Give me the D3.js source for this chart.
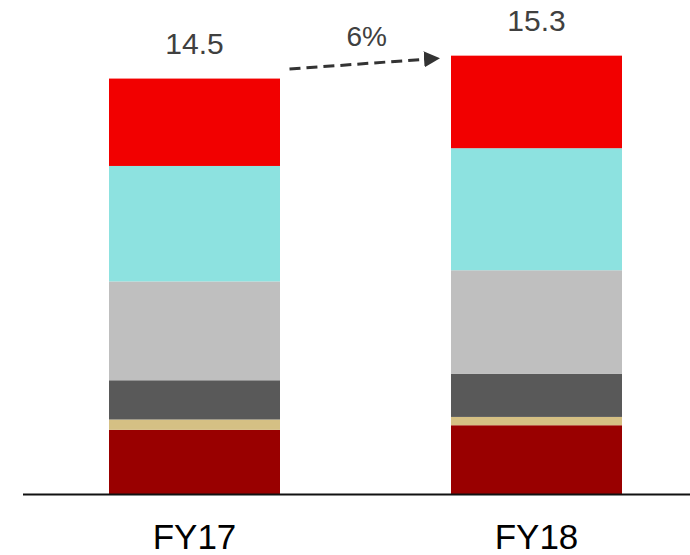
<!DOCTYPE html>
<html>
<head>
<meta charset="utf-8">
<script src="https://cdn.jsdelivr.net/npm/d3@7"></script>
<style>
  html, body { margin: 0; padding: 0; background: #ffffff; }
  svg { display: block; font-family: "Liberation Sans", Arial, sans-serif; }
</style>
</head>
<body>
<div id="chart"></div>
<script>
// ---- data ----
const categories = ["FY17", "FY18"];
const seriesNames = ["s1", "s2", "s3", "s4", "s5", "s6"]; // bottom to top
const seriesColors = ["#990000", "#D5C084", "#595959", "#BFBFBF", "#8DE2E0", "#F20000"];
const s1 = [2.24, 2.40];
const s2 = [0.36, 0.29];
const s3 = [1.37, 1.50];
const s4 = [3.45, 3.62];
const s5 = [4.03, 4.26];
const s6 = [3.05, 3.23];
const totals = [14.5, 15.3];
const totalLabels = ["14.5", "15.3"];
const growthLabel = "6%";

// ---- layout ----
const W = 690, H = 555;
const baseY = 494;
const svg = d3.select("#chart").append("svg").attr("width", W).attr("height", H);

const x = d3.scaleBand().domain(categories).range([23.5, 707.5])
  .paddingInner(0.5).paddingOuter(0.25);
const y = d3.scaleLinear().domain([0, 16]).range([baseY, baseY - 16 * 28.65]);

const rows = categories.map((c, i) => ({
  cat: c, s1: s1[i], s2: s2[i], s3: s3[i], s4: s4[i], s5: s5[i], s6: s6[i]
}));
const stack = d3.stack().keys(seriesNames)(rows);

svg.append("g").selectAll("g").data(stack).join("g")
  .attr("fill", (d, i) => seriesColors[i])
  .selectAll("rect").data(d => d).join("rect")
  .attr("x", d => x(d.data.cat))
  .attr("width", x.bandwidth())
  .attr("y", d => y(d[1]))
  .attr("height", d => y(d[0]) - y(d[1]));

// baseline axis
svg.append("line")
  .attr("x1", 23).attr("x2", W)
  .attr("y1", baseY + 0.5).attr("y2", baseY + 0.5)
  .attr("stroke", "#111").attr("stroke-width", 2);

const xAxis = svg.append("g").attr("transform", `translate(0,${baseY})`)
  .call(d3.axisBottom(x).tickSize(0).tickPadding(30));
xAxis.select(".domain").remove();
xAxis.selectAll("text").attr("font-size", 35).attr("fill", "#000")
  .attr("font-family", "Liberation Sans, Arial, sans-serif");

// totals
svg.append("g").selectAll("text").data(categories).join("text")
  .attr("x", d => x(d) + x.bandwidth() / 2)
  .attr("y", (d, i) => y(totals[i]) - 25)
  .attr("text-anchor", "middle")
  .attr("font-size", 30)
  .attr("fill", "#404040")
  .text((d, i) => totalLabels[i]);

// growth arrow
const defs = svg.append("defs");
defs.append("marker")
  .attr("id", "arrow").attr("viewBox", "0 0 10 10")
  .attr("refX", 10).attr("refY", 5)
  .attr("markerWidth", 16).attr("markerHeight", 16)
  .attr("markerUnits", "userSpaceOnUse")
  .attr("orient", "auto")
  .append("path").attr("d", "M0,0 L10,5 L0,10 Z").attr("fill", "#333");

const ax1 = x(categories[0]) + x.bandwidth() + 9.5;
const ay1 = y(totals[0]) - 9.5;
const ax2 = x(categories[1]) - 11;
const ay2 = y(totals[1]) + 2.5;
svg.append("line")
  .attr("x1", ax1).attr("y1", ay1)
  .attr("x2", ax2).attr("y2", ay2)
  .attr("stroke", "#333").attr("stroke-width", 3)
  .attr("stroke-dasharray", "11,6")
  .attr("marker-end", "url(#arrow)");

svg.append("text")
  .attr("x", (ax1 + ax2) / 2 + 2)
  .attr("y", 46)
  .attr("text-anchor", "middle")
  .attr("font-size", 28)
  .attr("fill", "#404040")
  .text(growthLabel);
</script>
</body>
</html>
